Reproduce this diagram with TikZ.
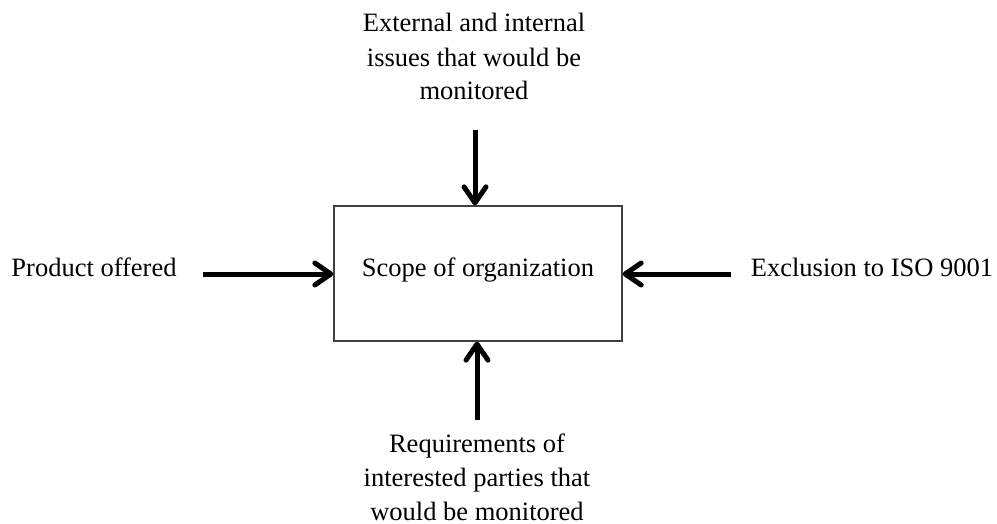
\documentclass[tikz,border=0pt]{standalone}
\usepackage{fontspec}
\setmainfont{Liberation Serif}
\usetikzlibrary{arrows.meta}
\begin{document}
\begin{tikzpicture}[x=0.5pt,y=-0.5pt,
  lbl/.style={font=\fontsize{13.25pt}{17pt}\selectfont, inner sep=0pt, anchor=base, align=center},
  bigarrow/.style={line width=2.5pt, -{Straight Barb[length=8pt,width=11pt,line cap=round,line join=round]}},
  scopebox/.style={draw=black!75, line width=0.65pt, minimum width=144pt, minimum height=67.5pt, inner sep=0pt}]
\useasboundingbox (0,0) rectangle (997,524);
\node[scopebox] (box) at (478,273.5) {};
\node[lbl] (scope) at (478,277) {Scope of organization};
\node[lbl] (top) at (474,100) {External and internal\\issues that would be\\monitored};
\node[lbl] (bottom) at (477,520) {Requirements of\\interested parties that\\would be monitored};
\node[lbl] (left) at (94,277) {Product offered};
\node[lbl] (right) at (872,277) {Exclusion to ISO 9001};
\coordinate (ts) at (475,130);
\coordinate (bs) at (477,420);
\coordinate (ls) at (203,274);
\coordinate (rs) at (731,274);
\draw[bigarrow] (ts) -- (ts |- box.north);
\draw[bigarrow] (bs) -- (bs |- box.south);
\draw[bigarrow] (ls) -- (ls -| box.west);
\draw[bigarrow] (rs) -- (rs -| box.east);
\end{tikzpicture}
\end{document}
